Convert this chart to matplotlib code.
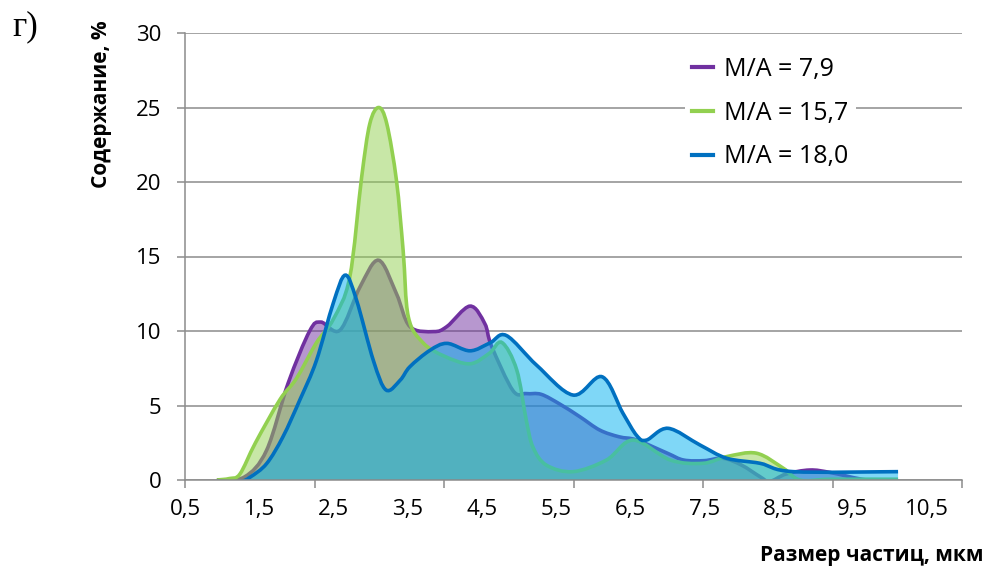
import matplotlib
matplotlib.use('Agg')
import matplotlib.pyplot as plt
import numpy as np
from matplotlib.lines import Line2D
from matplotlib.patches import PathPatch
from matplotlib.path import Path

plt.rcParams['font.family'] = ['Open Sans', 'DejaVu Sans']

# values (x in mkm, y in %)
x_79 = [0.93, 1.3, 1.6, 1.89, 2.18, 2.33, 2.59, 2.86, 3.11, 3.35, 3.53, 3.85,
        4.03, 4.34, 4.54, 4.63, 4.92, 5.1, 5.3, 5.55, 5.82, 6.09, 6.35, 6.59,
        7.0, 7.22, 7.5, 7.75, 8.0, 8.25, 8.38, 8.6, 8.92, 9.2, 9.69, 10.11]
y_79 = [0.0, 0.2, 2.0, 6.5, 10.0, 10.6, 10.06, 12.97, 14.75, 12.5, 10.3, 9.96,
        10.3, 11.67, 10.5, 9.0, 6.0, 5.8, 5.75, 5.1, 4.25, 3.35, 2.9, 2.68,
        1.8, 1.34, 1.3, 1.46, 1.0, 0.22, -0.1, 0.4, 0.67, 0.5, 0.0, 0.0]

x_157 = [0.93, 1.1, 1.24, 1.45, 1.78, 2.0, 2.27, 2.5, 2.72, 2.88, 2.99, 3.11,
         3.22, 3.35, 3.44, 3.51, 3.71, 4.0, 4.34, 4.6, 4.77, 4.97, 5.1, 5.19,
         5.37, 5.73, 6.18, 6.54, 7.04, 7.48, 7.8, 8.2, 8.56, 8.79, 9.2, 10.11]
y_157 = [0.0, 0.1, 0.4, 2.5, 5.4, 6.8, 9.2, 10.8, 13.6, 20.3, 23.9, 25.0,
         23.9, 20.1, 15.4, 10.95, 9.2, 8.3, 7.8, 8.5, 9.23, 7.4, 4.0, 2.2,
         1.0, 0.56, 1.34, 2.68, 1.34, 1.12, 1.57, 1.8, 0.8, 0.0, 0.05, 0.05]

x_180 = [0.93, 1.24, 1.38, 1.6, 1.82, 2.05, 2.27, 2.5, 2.66, 2.81, 3.04, 3.21,
         3.4, 3.53, 3.8, 4.03, 4.34, 4.61, 4.83, 5.24, 5.73, 6.12, 6.4, 6.59,
         6.72, 7.01, 7.44, 7.8, 8.25, 8.7, 10.11]
y_180 = [-0.1, -0.1, 0.2, 1.1, 2.9, 5.4, 8.0, 11.9, 13.75, 12.1, 8.0, 6.04,
         6.7, 7.6, 8.7, 9.17, 8.67, 9.2, 9.7, 7.7, 5.7, 6.93, 4.5, 2.97,
         2.68, 3.47, 2.35, 1.46, 1.12, 0.56, 0.56]

series_labels = ['M/A = 7,9', 'M/A = 15,7', 'M/A = 18,0']
x_tick_labels = ['0,5', '1,5', '2,5', '3,5', '4,5', '5,5', '6,5', '7,5',
                 '8,5', '9,5', '10,5']
x_label_values = [0.5, 1.5, 2.5, 3.5, 4.5, 5.5, 6.5, 7.5, 8.5, 9.5, 10.5]
y_ticks = [0, 5, 10, 15, 20, 25, 30]

LINE_COLORS = ['#7030A0', '#92D050', '#0070C0']
FILL_COLORS = ['#7030A0', '#92D050', '#00B0F0']


def smooth_path(xs, ys, closed=False):
    """Excel-like smoothed curve as cubic Bezier segments through the points."""
    pts = np.column_stack([xs, ys])
    n = len(pts)
    verts = [pts[0]]
    codes = [Path.MOVETO]
    for i in range(n - 1):
        p0 = pts[max(i - 1, 0)]
        p1 = pts[i]
        p2 = pts[i + 1]
        p3 = pts[min(i + 2, n - 1)]
        c1 = p1 + (p2 - p0) / 6.0
        c2 = p2 - (p3 - p1) / 6.0
        verts += [c1, c2, p2]
        codes += [Path.CURVE4] * 3
    if closed:
        verts += [(xs[-1], 0.0), (xs[0], 0.0), pts[0]]
        codes += [Path.LINETO, Path.LINETO, Path.CLOSEPOLY]
    return Path(verts, codes)


fig = plt.figure(figsize=(9.85, 5.75), dpi=100)
ax = fig.add_axes([185 / 985, 1 - 480 / 575, 777 / 985, 447 / 575])

data = [(x_79, y_79), (x_157, y_157), (x_180, y_180)]
for (xs, ys), lc, fc in zip(data, LINE_COLORS, FILL_COLORS):
    ax.add_patch(PathPatch(smooth_path(xs, ys, closed=True), facecolor=fc,
                           alpha=0.5, edgecolor='none', zorder=2))
    ax.add_patch(PathPatch(smooth_path(xs, ys), facecolor='none', edgecolor=lc,
                           lw=2.6, capstyle='butt', zorder=2))

xmax = 0.5 + 777 / 74.2
ax.set_xlim(0.5, xmax)
ax.set_ylim(0, 30)

ax.set_yticks(y_ticks)
ax.set_yticklabels([str(v) for v in y_ticks])
ax.yaxis.grid(True, color='#8c8c8c', lw=1.1)
ax.set_axisbelow(True)

ax.set_xticks(np.linspace(0.5, xmax, 7))
ax.set_xticklabels([])
ax.set_xticks(x_label_values, x_tick_labels, minor=True)
ax.xaxis.remove_overlapping_locs = False
ax.tick_params(axis='x', which='major', length=6, width=1.1, color='#8c8c8c')
ax.tick_params(axis='x', which='minor', length=0, pad=14, labelsize=16)
ax.tick_params(axis='y', length=6, width=1.1, color='#8c8c8c', pad=11,
               labelsize=16)

for side in ('top', 'right'):
    ax.spines[side].set_visible(False)
for side in ('left', 'bottom'):
    ax.spines[side].set_color('#8c8c8c')
    ax.spines[side].set_linewidth(1.1)

handles = [Line2D([], [], color=c, lw=3) for c in LINE_COLORS]
leg = ax.legend(handles, series_labels, loc='upper left',
                bbox_to_anchor=(672 / 985, 1 - 37 / 575),
                bbox_transform=fig.transFigure, fontsize=18,
                frameon=True, facecolor='white', edgecolor='none',
                framealpha=1.0, fancybox=False, borderpad=0.3,
                handlelength=0.85, handletextpad=0.45, labelspacing=0.75)
leg.set_zorder(5)

fig.text(101 / 985, 1 - 104 / 575, 'Содержание, %', rotation=90,
         ha='center', va='center', fontsize=15, fontweight='bold')
fig.text(983 / 985, 1 - 555 / 575, 'Размер частиц, мкм', ha='right',
         va='center', fontsize=15, fontweight='bold')
fig.text(12 / 985, 1 - 27 / 575, 'г)', ha='left', va='center', fontsize=25,
         family=['Liberation Serif', 'DejaVu Serif'])

fig.savefig('out.png', dpi=100)
